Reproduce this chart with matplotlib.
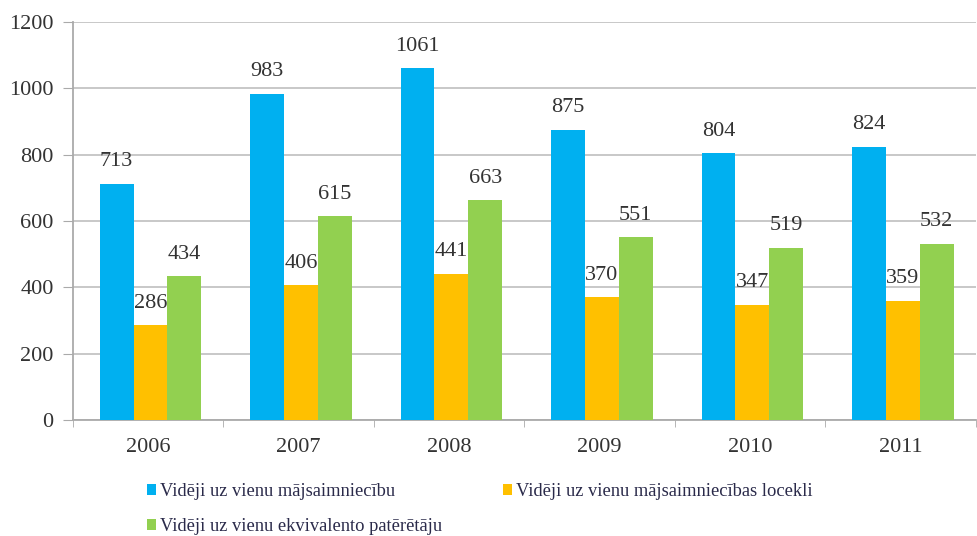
import matplotlib
matplotlib.use("Agg")
import matplotlib.pyplot as plt
import numpy as np

years = ["2006", "2007", "2008", "2009", "2010", "2011"]
household = [713, 983, 1061, 875, 804, 824]
member = [286, 406, 441, 370, 347, 359]
equivalent = [434, 615, 663, 551, 519, 532]
series_names = ["Vidēji uz vienu mājsaimniecību",
                "Vidēji uz vienu mājsaimniecības locekli",
                "Vidēji uz vienu ekvivalento patērētāju"]
colors = ["#00B0F0", "#FFC000", "#92D050"]

plt.rcParams['font.family'] = ['Liberation Serif', 'DejaVu Serif']

fig = plt.figure(figsize=(9.77, 5.36), dpi=100)
ax = fig.add_axes([0.0747, 0.2164, 0.924, 0.7426])

x = np.arange(len(years))
w = 0.225
series = [household, member, equivalent]
for i, (vals, c, name) in enumerate(zip(series, colors, series_names)):
    pos = x + (i - 1) * w + 0.015
    ax.bar(pos, vals, width=w, color=c, label=name, zorder=3)
    for p, v in zip(pos, vals):
        ax.annotate(str(v), (p, v), xytext=(0, 9), textcoords='offset points',
                    ha='center', va='bottom', fontsize=16, color='#333333', zorder=4)

ax.set_xlim(-0.5, len(years) - 0.5)
ax.set_ylim(0, 1200)
ax.set_yticks(range(0, 1201, 200))
ax.set_xticks(x)
ax.set_xticklabels(years)
ax.set_xticks(np.arange(-0.5, len(years), 1), minor=True)
ax.tick_params(axis='x', which='major', length=0, labelsize=16, pad=13, labelcolor='#333333')
ax.tick_params(axis='x', which='minor', length=5, color='#aaaaaa')
ax.tick_params(axis='y', length=7, color='#aaaaaa', labelsize=16, pad=7, labelcolor='#333333')
ax.grid(axis='y', color='#c4c4c4', linewidth=1.3, zorder=0)
for s in ['top', 'right']:
    ax.spines[s].set_visible(False)
for s in ['left', 'bottom']:
    ax.spines[s].set_color('#aaaaaa')
    ax.spines[s].set_linewidth(1.3)

handles, labels = ax.get_legend_handles_labels()
order = [0, 2, 1]
leg = fig.legend([handles[i] for i in order], [labels[i] for i in order],
                 loc='upper left', bbox_to_anchor=(0.143, 0.113), ncol=2,
                 frameon=False, fontsize=13.3, handlelength=0.5, handleheight=0.5,
                 handletextpad=0.2, columnspacing=3.3, labelspacing=1.0,
                 borderaxespad=0)
for t in leg.get_texts():
    t.set_color('#2a2a4a')

fig.savefig("out.png", dpi=100)
